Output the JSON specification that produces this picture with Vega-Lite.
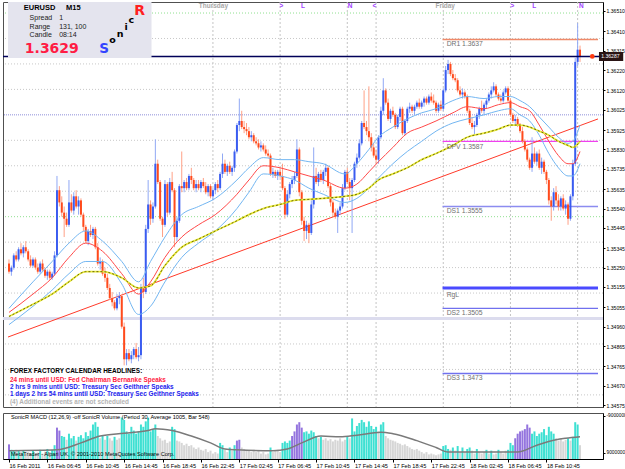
{
"$schema": "https://vega.github.io/schema/vega-lite/v6.json",
"background": "#ffffff",
"padding": {"left": 1, "top": 1, "right": 0, "bottom": 0},
"spacing": 3,
"config": {
 "view": {"stroke": "#505050", "strokeWidth": 1},
 "font": "Liberation Sans",
 "axis": {"labelFont": "Liberation Sans", "labelFontSize": 5.6, "labelColor": "#000000", "domainColor": "#000000", "tickColor": "#000000", "tickSize": 3, "labelPadding": 1, "grid": false, "labelOverlap": false, "labelFlush": false}
},
"resolve": {"scale": {"color": "independent", "stroke": "independent"}},
"datasets": {
"bars": [
{"i":0,"o":1.3527,"h":1.3529,"l":1.3522,"c":1.3523,"v":700,"k":"p"},
{"i":1,"o":1.3523,"h":1.3526,"l":1.3521,"c":1.3525,"v":440,"k":"c"},
{"i":2,"o":1.3525,"h":1.3532,"l":1.3524,"c":1.3531,"v":400,"k":"c"},
{"i":3,"o":1.3531,"h":1.3533,"l":1.3528,"c":1.3529,"v":440,"k":"g"},
{"i":4,"o":1.3529,"h":1.3535,"l":1.3528,"c":1.3534,"v":420,"k":"c"},
{"i":5,"o":1.3534,"h":1.3537,"l":1.3531,"c":1.3532,"v":330,"k":"g"},
{"i":6,"o":1.3532,"h":1.3536,"l":1.3530,"c":1.3535,"v":400,"k":"c"},
{"i":7,"o":1.3535,"h":1.3538,"l":1.3532,"c":1.3533,"v":260,"k":"g"},
{"i":8,"o":1.3533,"h":1.3534,"l":1.3528,"c":1.3529,"v":330,"k":"g"},
{"i":9,"o":1.3529,"h":1.3531,"l":1.3525,"c":1.3526,"v":260,"k":"g"},
{"i":10,"o":1.3526,"h":1.3530,"l":1.3525,"c":1.3529,"v":400,"k":"c"},
{"i":11,"o":1.3529,"h":1.3530,"l":1.3524,"c":1.3525,"v":220,"k":"g"},
{"i":12,"o":1.3525,"h":1.3527,"l":1.3522,"c":1.3523,"v":310,"k":"g"},
{"i":13,"o":1.3523,"h":1.3528,"l":1.3522,"c":1.3527,"v":440,"k":"c"},
{"i":14,"o":1.3527,"h":1.3529,"l":1.3523,"c":1.3524,"v":260,"k":"g"},
{"i":15,"o":1.3524,"h":1.3525,"l":1.3520,"c":1.3521,"v":350,"k":"g"},
{"i":16,"o":1.3521,"h":1.3524,"l":1.3519,"c":1.3523,"v":480,"k":"c"},
{"i":17,"o":1.3523,"h":1.3524,"l":1.3519,"c":1.3520,"v":330,"k":"g"},
{"i":18,"o":1.3520,"h":1.3523,"l":1.3519,"c":1.3522,"v":440,"k":"c"},
{"i":19,"o":1.3522,"h":1.3533,"l":1.3521,"c":1.3531,"v":660,"k":"c"},
{"i":20,"o":1.3531,"h":1.3570,"l":1.3530,"c":1.3563,"v":1500,"k":"p"},
{"i":21,"o":1.3563,"h":1.3565,"l":1.3555,"c":1.3557,"v":1360,"k":"p"},
{"i":22,"o":1.3557,"h":1.3560,"l":1.3550,"c":1.3552,"v":1100,"k":"c"},
{"i":23,"o":1.3552,"h":1.3555,"l":1.3540,"c":1.3549,"v":1060,"k":"c"},
{"i":24,"o":1.3549,"h":1.3552,"l":1.3545,"c":1.3546,"v":920,"k":"g"},
{"i":25,"o":1.3546,"h":1.3568,"l":1.3545,"c":1.3557,"v":1210,"k":"c"},
{"i":26,"o":1.3557,"h":1.3561,"l":1.3552,"c":1.3553,"v":990,"k":"c"},
{"i":27,"o":1.3553,"h":1.3562,"l":1.3551,"c":1.3560,"v":1100,"k":"c"},
{"i":28,"o":1.3560,"h":1.3563,"l":1.3554,"c":1.3555,"v":880,"k":"g"},
{"i":29,"o":1.3555,"h":1.3560,"l":1.3551,"c":1.3558,"v":1060,"k":"c"},
{"i":30,"o":1.3558,"h":1.3559,"l":1.3550,"c":1.3551,"v":1140,"k":"c"},
{"i":31,"o":1.3551,"h":1.3552,"l":1.3543,"c":1.3545,"v":990,"k":"c"},
{"i":32,"o":1.3545,"h":1.3546,"l":1.3537,"c":1.3538,"v":1280,"k":"c"},
{"i":33,"o":1.3538,"h":1.3544,"l":1.3536,"c":1.3543,"v":1100,"k":"c"},
{"i":34,"o":1.3543,"h":1.3546,"l":1.3540,"c":1.3541,"v":1360,"k":"c"},
{"i":35,"o":1.3541,"h":1.3545,"l":1.3539,"c":1.3544,"v":1650,"k":"c"},
{"i":36,"o":1.3544,"h":1.3545,"l":1.3534,"c":1.3535,"v":1760,"k":"c"},
{"i":37,"o":1.3535,"h":1.3537,"l":1.3526,"c":1.3527,"v":1540,"k":"c"},
{"i":38,"o":1.3527,"h":1.3530,"l":1.3524,"c":1.3528,"v":990,"k":"g"},
{"i":39,"o":1.3528,"h":1.3529,"l":1.3521,"c":1.3522,"v":1100,"k":"c"},
{"i":40,"o":1.3522,"h":1.3525,"l":1.3518,"c":1.3520,"v":920,"k":"g"},
{"i":41,"o":1.3520,"h":1.3522,"l":1.3514,"c":1.3515,"v":1100,"k":"c"},
{"i":42,"o":1.3515,"h":1.3517,"l":1.3509,"c":1.3510,"v":990,"k":"g"},
{"i":43,"o":1.3510,"h":1.3513,"l":1.3506,"c":1.3508,"v":880,"k":"g"},
{"i":44,"o":1.3508,"h":1.3509,"l":1.3504,"c":1.3505,"v":1060,"k":"c"},
{"i":45,"o":1.3505,"h":1.3512,"l":1.3504,"c":1.3510,"v":920,"k":"g"},
{"i":46,"o":1.3510,"h":1.3513,"l":1.3507,"c":1.3511,"v":990,"k":"g"},
{"i":47,"o":1.3511,"h":1.3512,"l":1.3495,"c":1.3496,"v":1980,"k":"c"},
{"i":48,"o":1.3496,"h":1.3498,"l":1.3477,"c":1.3480,"v":1870,"k":"c"},
{"i":49,"o":1.3480,"h":1.3485,"l":1.3477,"c":1.3483,"v":1320,"k":"c"},
{"i":50,"o":1.3483,"h":1.3485,"l":1.3479,"c":1.3480,"v":1210,"k":"c"},
{"i":51,"o":1.3480,"h":1.3484,"l":1.3478,"c":1.3482,"v":1540,"k":"c"},
{"i":52,"o":1.3482,"h":1.3486,"l":1.3480,"c":1.3485,"v":1360,"k":"c"},
{"i":53,"o":1.3485,"h":1.3488,"l":1.3480,"c":1.3481,"v":1210,"k":"c"},
{"i":54,"o":1.3481,"h":1.3486,"l":1.3479,"c":1.3482,"v":1320,"k":"c"},
{"i":55,"o":1.3482,"h":1.3517,"l":1.3480,"c":1.3515,"v":1650,"k":"c"},
{"i":56,"o":1.3515,"h":1.3520,"l":1.3510,"c":1.3513,"v":1540,"k":"c"},
{"i":57,"o":1.3513,"h":1.3546,"l":1.3512,"c":1.3544,"v":1800,"k":"c"},
{"i":58,"o":1.3544,"h":1.3568,"l":1.3542,"c":1.3556,"v":1980,"k":"c"},
{"i":59,"o":1.3556,"h":1.3558,"l":1.3546,"c":1.3549,"v":1320,"k":"c"},
{"i":60,"o":1.3549,"h":1.3557,"l":1.3547,"c":1.3555,"v":1430,"k":"c"},
{"i":61,"o":1.3555,"h":1.3588,"l":1.3554,"c":1.3576,"v":1650,"k":"c"},
{"i":62,"o":1.3576,"h":1.3578,"l":1.3566,"c":1.3567,"v":1100,"k":"g"},
{"i":63,"o":1.3567,"h":1.3568,"l":1.3548,"c":1.3549,"v":990,"k":"g"},
{"i":64,"o":1.3549,"h":1.3550,"l":1.3540,"c":1.3546,"v":880,"k":"g"},
{"i":65,"o":1.3546,"h":1.3568,"l":1.3545,"c":1.3566,"v":920,"k":"g"},
{"i":66,"o":1.3566,"h":1.3567,"l":1.3550,"c":1.3552,"v":770,"k":"g"},
{"i":67,"o":1.3552,"h":1.3569,"l":1.3551,"c":1.3567,"v":840,"k":"g"},
{"i":68,"o":1.3567,"h":1.3572,"l":1.3562,"c":1.3563,"v":1540,"k":"c"},
{"i":69,"o":1.3563,"h":1.3564,"l":1.3535,"c":1.3540,"v":1430,"k":"c"},
{"i":70,"o":1.3540,"h":1.3550,"l":1.3538,"c":1.3548,"v":880,"k":"g"},
{"i":71,"o":1.3548,"h":1.3566,"l":1.3547,"c":1.3565,"v":840,"k":"g"},
{"i":72,"o":1.3565,"h":1.3582,"l":1.3562,"c":1.3564,"v":770,"k":"g"},
{"i":73,"o":1.3564,"h":1.3568,"l":1.3562,"c":1.3567,"v":660,"k":"g"},
{"i":74,"o":1.3567,"h":1.3569,"l":1.3563,"c":1.3564,"v":730,"k":"g"},
{"i":75,"o":1.3564,"h":1.3571,"l":1.3563,"c":1.3570,"v":620,"k":"g"},
{"i":76,"o":1.3570,"h":1.3574,"l":1.3566,"c":1.3568,"v":660,"k":"g"},
{"i":77,"o":1.3568,"h":1.3569,"l":1.3563,"c":1.3564,"v":550,"k":"g"},
{"i":78,"o":1.3564,"h":1.3568,"l":1.3562,"c":1.3566,"v":480,"k":"g"},
{"i":79,"o":1.3566,"h":1.3568,"l":1.3563,"c":1.3564,"v":550,"k":"g"},
{"i":80,"o":1.3564,"h":1.3568,"l":1.3562,"c":1.3567,"v":440,"k":"g"},
{"i":81,"o":1.3567,"h":1.3569,"l":1.3564,"c":1.3565,"v":400,"k":"g"},
{"i":82,"o":1.3565,"h":1.3567,"l":1.3561,"c":1.3562,"v":480,"k":"g"},
{"i":83,"o":1.3562,"h":1.3566,"l":1.3560,"c":1.3565,"v":330,"k":"g"},
{"i":84,"o":1.3565,"h":1.3566,"l":1.3559,"c":1.3560,"v":400,"k":"g"},
{"i":85,"o":1.3560,"h":1.3564,"l":1.3558,"c":1.3563,"v":260,"k":"g"},
{"i":86,"o":1.3563,"h":1.3567,"l":1.3561,"c":1.3566,"v":330,"k":"g"},
{"i":87,"o":1.3566,"h":1.3568,"l":1.3562,"c":1.3564,"v":260,"k":"g"},
{"i":88,"o":1.3564,"h":1.3572,"l":1.3563,"c":1.3571,"v":770,"k":"c"},
{"i":89,"o":1.3571,"h":1.3581,"l":1.3569,"c":1.3576,"v":660,"k":"c"},
{"i":90,"o":1.3576,"h":1.3578,"l":1.3571,"c":1.3572,"v":440,"k":"g"},
{"i":91,"o":1.3572,"h":1.3576,"l":1.3570,"c":1.3575,"v":330,"k":"g"},
{"i":92,"o":1.3575,"h":1.3577,"l":1.3571,"c":1.3572,"v":550,"k":"c"},
{"i":93,"o":1.3572,"h":1.3575,"l":1.3570,"c":1.3574,"v":400,"k":"g"},
{"i":94,"o":1.3574,"h":1.3583,"l":1.3572,"c":1.3582,"v":660,"k":"c"},
{"i":95,"o":1.3582,"h":1.3596,"l":1.3581,"c":1.3595,"v":880,"k":"p"},
{"i":96,"o":1.3595,"h":1.3608,"l":1.3592,"c":1.3597,"v":920,"k":"p"},
{"i":97,"o":1.3597,"h":1.3602,"l":1.3593,"c":1.3594,"v":550,"k":"g"},
{"i":98,"o":1.3594,"h":1.3597,"l":1.3591,"c":1.3593,"v":480,"k":"g"},
{"i":99,"o":1.3593,"h":1.3596,"l":1.3590,"c":1.3592,"v":440,"k":"g"},
{"i":100,"o":1.3592,"h":1.3594,"l":1.3588,"c":1.3589,"v":400,"k":"g"},
{"i":101,"o":1.3589,"h":1.3592,"l":1.3587,"c":1.3590,"v":330,"k":"g"},
{"i":102,"o":1.3590,"h":1.3591,"l":1.3586,"c":1.3587,"v":440,"k":"g"},
{"i":103,"o":1.3587,"h":1.3589,"l":1.3585,"c":1.3586,"v":330,"k":"g"},
{"i":104,"o":1.3586,"h":1.3588,"l":1.3583,"c":1.3584,"v":400,"k":"g"},
{"i":105,"o":1.3584,"h":1.3587,"l":1.3582,"c":1.3585,"v":260,"k":"g"},
{"i":106,"o":1.3585,"h":1.3586,"l":1.3582,"c":1.3583,"v":330,"k":"g"},
{"i":107,"o":1.3583,"h":1.3585,"l":1.3580,"c":1.3581,"v":220,"k":"g"},
{"i":108,"o":1.3581,"h":1.3583,"l":1.3579,"c":1.3580,"v":260,"k":"g"},
{"i":109,"o":1.3580,"h":1.3581,"l":1.3570,"c":1.3571,"v":550,"k":"c"},
{"i":110,"o":1.3571,"h":1.3574,"l":1.3569,"c":1.3572,"v":330,"k":"g"},
{"i":111,"o":1.3572,"h":1.3573,"l":1.3569,"c":1.3570,"v":400,"k":"g"},
{"i":112,"o":1.3570,"h":1.3573,"l":1.3568,"c":1.3572,"v":440,"k":"g"},
{"i":113,"o":1.3572,"h":1.3574,"l":1.3569,"c":1.3570,"v":330,"k":"g"},
{"i":114,"o":1.3570,"h":1.3576,"l":1.3563,"c":1.3564,"v":770,"k":"c"},
{"i":115,"o":1.3564,"h":1.3565,"l":1.3549,"c":1.3551,"v":840,"k":"c"},
{"i":116,"o":1.3551,"h":1.3563,"l":1.3550,"c":1.3561,"v":770,"k":"c"},
{"i":117,"o":1.3561,"h":1.3567,"l":1.3559,"c":1.3566,"v":880,"k":"c"},
{"i":118,"o":1.3566,"h":1.3570,"l":1.3564,"c":1.3568,"v":1100,"k":"p"},
{"i":119,"o":1.3568,"h":1.3572,"l":1.3566,"c":1.3570,"v":1320,"k":"p"},
{"i":120,"o":1.3570,"h":1.3588,"l":1.3569,"c":1.3583,"v":1650,"k":"p"},
{"i":121,"o":1.3583,"h":1.3584,"l":1.3560,"c":1.3562,"v":1760,"k":"p"},
{"i":122,"o":1.3562,"h":1.3563,"l":1.3546,"c":1.3548,"v":1500,"k":"p"},
{"i":123,"o":1.3548,"h":1.3550,"l":1.3538,"c":1.3543,"v":1280,"k":"c"},
{"i":124,"o":1.3543,"h":1.3548,"l":1.3539,"c":1.3546,"v":1320,"k":"c"},
{"i":125,"o":1.3546,"h":1.3547,"l":1.3537,"c":1.3542,"v":1210,"k":"c"},
{"i":126,"o":1.3542,"h":1.3558,"l":1.3541,"c":1.3556,"v":1360,"k":"c"},
{"i":127,"o":1.3556,"h":1.3584,"l":1.3554,"c":1.3570,"v":1280,"k":"c"},
{"i":128,"o":1.3570,"h":1.3574,"l":1.3566,"c":1.3567,"v":1100,"k":"c"},
{"i":129,"o":1.3567,"h":1.3572,"l":1.3565,"c":1.3571,"v":990,"k":"g"},
{"i":130,"o":1.3571,"h":1.3573,"l":1.3567,"c":1.3568,"v":1060,"k":"c"},
{"i":131,"o":1.3568,"h":1.3573,"l":1.3566,"c":1.3572,"v":920,"k":"g"},
{"i":132,"o":1.3572,"h":1.3576,"l":1.3570,"c":1.3574,"v":990,"k":"g"},
{"i":133,"o":1.3574,"h":1.3575,"l":1.3564,"c":1.3565,"v":880,"k":"g"},
{"i":134,"o":1.3565,"h":1.3566,"l":1.3555,"c":1.3557,"v":950,"k":"g"},
{"i":135,"o":1.3557,"h":1.3558,"l":1.3550,"c":1.3552,"v":840,"k":"g"},
{"i":136,"o":1.3552,"h":1.3554,"l":1.3549,"c":1.3550,"v":920,"k":"g"},
{"i":137,"o":1.3550,"h":1.3554,"l":1.3542,"c":1.3553,"v":880,"k":"g"},
{"i":138,"o":1.3553,"h":1.3557,"l":1.3551,"c":1.3555,"v":990,"k":"g"},
{"i":139,"o":1.3555,"h":1.3566,"l":1.3554,"c":1.3564,"v":840,"k":"g"},
{"i":140,"o":1.3564,"h":1.3573,"l":1.3563,"c":1.3572,"v":920,"k":"g"},
{"i":141,"o":1.3572,"h":1.3574,"l":1.3566,"c":1.3567,"v":1100,"k":"c"},
{"i":142,"o":1.3567,"h":1.3569,"l":1.3558,"c":1.3564,"v":990,"k":"g"},
{"i":143,"o":1.3564,"h":1.3569,"l":1.3542,"c":1.3568,"v":1940,"k":"c"},
{"i":144,"o":1.3568,"h":1.3577,"l":1.3567,"c":1.3576,"v":1320,"k":"c"},
{"i":145,"o":1.3576,"h":1.3581,"l":1.3574,"c":1.3579,"v":1580,"k":"c"},
{"i":146,"o":1.3579,"h":1.3588,"l":1.3578,"c":1.3586,"v":1720,"k":"c"},
{"i":147,"o":1.3586,"h":1.3597,"l":1.3585,"c":1.3596,"v":1870,"k":"c"},
{"i":148,"o":1.3596,"h":1.3612,"l":1.3593,"c":1.3594,"v":1760,"k":"c"},
{"i":149,"o":1.3594,"h":1.3597,"l":1.3590,"c":1.3592,"v":1540,"k":"c"},
{"i":150,"o":1.3592,"h":1.3614,"l":1.3587,"c":1.3589,"v":1800,"k":"c"},
{"i":151,"o":1.3589,"h":1.3591,"l":1.3582,"c":1.3584,"v":1580,"k":"c"},
{"i":152,"o":1.3584,"h":1.3586,"l":1.3579,"c":1.3580,"v":1430,"k":"c"},
{"i":153,"o":1.3580,"h":1.3583,"l":1.3576,"c":1.3578,"v":1540,"k":"c"},
{"i":154,"o":1.3578,"h":1.3590,"l":1.3576,"c":1.3589,"v":1320,"k":"g"},
{"i":155,"o":1.3589,"h":1.3604,"l":1.3588,"c":1.3602,"v":1650,"k":"c"},
{"i":156,"o":1.3602,"h":1.3618,"l":1.3600,"c":1.3612,"v":1760,"k":"c"},
{"i":157,"o":1.3612,"h":1.3613,"l":1.3605,"c":1.3606,"v":1100,"k":"g"},
{"i":158,"o":1.3606,"h":1.3608,"l":1.3597,"c":1.3598,"v":990,"k":"g"},
{"i":159,"o":1.3598,"h":1.3603,"l":1.3596,"c":1.3602,"v":920,"k":"g"},
{"i":160,"o":1.3602,"h":1.3604,"l":1.3599,"c":1.3600,"v":880,"k":"g"},
{"i":161,"o":1.3600,"h":1.3601,"l":1.3593,"c":1.3594,"v":840,"k":"g"},
{"i":162,"o":1.3594,"h":1.3600,"l":1.3593,"c":1.3599,"v":770,"k":"g"},
{"i":163,"o":1.3599,"h":1.3604,"l":1.3597,"c":1.3603,"v":730,"k":"g"},
{"i":164,"o":1.3603,"h":1.3604,"l":1.3590,"c":1.3591,"v":660,"k":"g"},
{"i":165,"o":1.3591,"h":1.3598,"l":1.3590,"c":1.3597,"v":700,"k":"g"},
{"i":166,"o":1.3597,"h":1.3604,"l":1.3596,"c":1.3603,"v":620,"k":"g"},
{"i":167,"o":1.3603,"h":1.3606,"l":1.3601,"c":1.3604,"v":550,"k":"g"},
{"i":168,"o":1.3604,"h":1.3605,"l":1.3601,"c":1.3602,"v":480,"k":"g"},
{"i":169,"o":1.3602,"h":1.3605,"l":1.3600,"c":1.3604,"v":440,"k":"g"},
{"i":170,"o":1.3604,"h":1.3607,"l":1.3603,"c":1.3606,"v":480,"k":"g"},
{"i":171,"o":1.3606,"h":1.3608,"l":1.3603,"c":1.3604,"v":400,"k":"g"},
{"i":172,"o":1.3604,"h":1.3607,"l":1.3603,"c":1.3606,"v":330,"k":"g"},
{"i":173,"o":1.3606,"h":1.3609,"l":1.3604,"c":1.3608,"v":260,"k":"g"},
{"i":174,"o":1.3608,"h":1.3609,"l":1.3605,"c":1.3606,"v":330,"k":"g"},
{"i":175,"o":1.3606,"h":1.3610,"l":1.3605,"c":1.3609,"v":220,"k":"g"},
{"i":176,"o":1.3609,"h":1.3611,"l":1.3606,"c":1.3607,"v":260,"k":"g"},
{"i":177,"o":1.3607,"h":1.3610,"l":1.3605,"c":1.3606,"v":220,"k":"g"},
{"i":178,"o":1.3606,"h":1.3607,"l":1.3601,"c":1.3602,"v":180,"k":"g"},
{"i":179,"o":1.3602,"h":1.3606,"l":1.3601,"c":1.3605,"v":220,"k":"g"},
{"i":180,"o":1.3605,"h":1.3607,"l":1.3602,"c":1.3603,"v":260,"k":"g"},
{"i":181,"o":1.3603,"h":1.3613,"l":1.3602,"c":1.3612,"v":620,"k":"c"},
{"i":182,"o":1.3612,"h":1.3624,"l":1.3611,"c":1.3622,"v":660,"k":"c"},
{"i":183,"o":1.3622,"h":1.3627,"l":1.3620,"c":1.3625,"v":480,"k":"c"},
{"i":184,"o":1.3625,"h":1.3626,"l":1.3619,"c":1.3620,"v":440,"k":"g"},
{"i":185,"o":1.3620,"h":1.3622,"l":1.3617,"c":1.3618,"v":550,"k":"c"},
{"i":186,"o":1.3618,"h":1.3620,"l":1.3616,"c":1.3617,"v":400,"k":"g"},
{"i":187,"o":1.3617,"h":1.3618,"l":1.3611,"c":1.3612,"v":620,"k":"c"},
{"i":188,"o":1.3612,"h":1.3614,"l":1.3609,"c":1.3610,"v":330,"k":"g"},
{"i":189,"o":1.3610,"h":1.3613,"l":1.3608,"c":1.3611,"v":550,"k":"c"},
{"i":190,"o":1.3611,"h":1.3612,"l":1.3608,"c":1.3609,"v":330,"k":"g"},
{"i":191,"o":1.3609,"h":1.3610,"l":1.3601,"c":1.3602,"v":480,"k":"c"},
{"i":192,"o":1.3602,"h":1.3603,"l":1.3595,"c":1.3596,"v":550,"k":"c"},
{"i":193,"o":1.3596,"h":1.3599,"l":1.3593,"c":1.3594,"v":400,"k":"g"},
{"i":194,"o":1.3594,"h":1.3597,"l":1.3590,"c":1.3595,"v":260,"k":"g"},
{"i":195,"o":1.3595,"h":1.3601,"l":1.3594,"c":1.3600,"v":480,"k":"c"},
{"i":196,"o":1.3600,"h":1.3604,"l":1.3598,"c":1.3603,"v":330,"k":"g"},
{"i":197,"o":1.3603,"h":1.3607,"l":1.3601,"c":1.3602,"v":260,"k":"g"},
{"i":198,"o":1.3602,"h":1.3606,"l":1.3600,"c":1.3605,"v":330,"k":"g"},
{"i":199,"o":1.3605,"h":1.3608,"l":1.3603,"c":1.3607,"v":440,"k":"c"},
{"i":200,"o":1.3607,"h":1.3611,"l":1.3606,"c":1.3610,"v":260,"k":"g"},
{"i":201,"o":1.3610,"h":1.3614,"l":1.3608,"c":1.3612,"v":400,"k":"c"},
{"i":202,"o":1.3612,"h":1.3616,"l":1.3611,"c":1.3614,"v":220,"k":"g"},
{"i":203,"o":1.3614,"h":1.3615,"l":1.3609,"c":1.3610,"v":260,"k":"g"},
{"i":204,"o":1.3610,"h":1.3611,"l":1.3607,"c":1.3608,"v":440,"k":"c"},
{"i":205,"o":1.3608,"h":1.3610,"l":1.3606,"c":1.3607,"v":330,"k":"g"},
{"i":206,"o":1.3607,"h":1.3612,"l":1.3606,"c":1.3611,"v":260,"k":"g"},
{"i":207,"o":1.3611,"h":1.3614,"l":1.3610,"c":1.3613,"v":400,"k":"g"},
{"i":208,"o":1.3613,"h":1.3614,"l":1.3606,"c":1.3607,"v":440,"k":"c"},
{"i":209,"o":1.3607,"h":1.3608,"l":1.3599,"c":1.3600,"v":770,"k":"c"},
{"i":210,"o":1.3600,"h":1.3601,"l":1.3596,"c":1.3597,"v":660,"k":"c"},
{"i":211,"o":1.3597,"h":1.3600,"l":1.3595,"c":1.3598,"v":990,"k":"p"},
{"i":212,"o":1.3598,"h":1.3599,"l":1.3594,"c":1.3595,"v":1210,"k":"p"},
{"i":213,"o":1.3595,"h":1.3596,"l":1.3591,"c":1.3592,"v":1320,"k":"p"},
{"i":214,"o":1.3592,"h":1.3594,"l":1.3586,"c":1.3587,"v":1360,"k":"p"},
{"i":215,"o":1.3587,"h":1.3588,"l":1.3582,"c":1.3583,"v":1430,"k":"p"},
{"i":216,"o":1.3583,"h":1.3584,"l":1.3577,"c":1.3578,"v":1650,"k":"p"},
{"i":217,"o":1.3578,"h":1.3579,"l":1.3573,"c":1.3574,"v":1500,"k":"p"},
{"i":218,"o":1.3574,"h":1.3589,"l":1.3572,"c":1.3581,"v":1210,"k":"c"},
{"i":219,"o":1.3581,"h":1.3584,"l":1.3576,"c":1.3577,"v":1320,"k":"c"},
{"i":220,"o":1.3577,"h":1.3582,"l":1.3575,"c":1.3581,"v":1100,"k":"c"},
{"i":221,"o":1.3581,"h":1.3583,"l":1.3573,"c":1.3574,"v":1210,"k":"c"},
{"i":222,"o":1.3574,"h":1.3579,"l":1.3571,"c":1.3577,"v":1280,"k":"c"},
{"i":223,"o":1.3577,"h":1.3578,"l":1.3571,"c":1.3572,"v":1430,"k":"c"},
{"i":224,"o":1.3572,"h":1.3573,"l":1.3566,"c":1.3568,"v":1140,"k":"c"},
{"i":225,"o":1.3568,"h":1.3569,"l":1.3556,"c":1.3558,"v":1540,"k":"c"},
{"i":226,"o":1.3558,"h":1.3560,"l":1.3548,"c":1.3555,"v":1320,"k":"c"},
{"i":227,"o":1.3555,"h":1.3564,"l":1.3553,"c":1.3562,"v":1210,"k":"c"},
{"i":228,"o":1.3562,"h":1.3565,"l":1.3556,"c":1.3558,"v":990,"k":"g"},
{"i":229,"o":1.3558,"h":1.3561,"l":1.3553,"c":1.3555,"v":880,"k":"g"},
{"i":230,"o":1.3555,"h":1.3560,"l":1.3553,"c":1.3559,"v":990,"k":"g"},
{"i":231,"o":1.3559,"h":1.3561,"l":1.3553,"c":1.3554,"v":840,"k":"g"},
{"i":232,"o":1.3554,"h":1.3558,"l":1.3551,"c":1.3556,"v":920,"k":"g"},
{"i":233,"o":1.3556,"h":1.3557,"l":1.3546,"c":1.3549,"v":990,"k":"c"},
{"i":234,"o":1.3549,"h":1.3561,"l":1.3548,"c":1.3560,"v":880,"k":"g"},
{"i":235,"o":1.3560,"h":1.3578,"l":1.3558,"c":1.3576,"v":1060,"k":"c"},
{"i":236,"o":1.3576,"h":1.3628,"l":1.3575,"c":1.3626,"v":1760,"k":"c"},
{"i":237,"o":1.3626,"h":1.3645,"l":1.3624,"c":1.3632,"v":1650,"k":"c"},
{"i":238,"o":1.3632,"h":1.3634,"l":1.3626,"c":1.36287,"v":660,"k":"g"}
],
"ma": [
{"i":0,"u":1.3505,"m":1.3503,"d":1.3497,"e":1.3501},
{"i":10,"u":1.3518,"m":1.3512,"d":1.3506,"e":1.3507},
{"i":18,"u":1.3528,"m":1.3520,"d":1.3514,"e":1.3512},
{"i":25,"u":1.3537,"m":1.3530,"d":1.3522,"e":1.3518},
{"i":32,"u":1.3543,"m":1.3537,"d":1.3528,"e":1.3523},
{"i":39,"u":1.3538,"m":1.3533,"d":1.3528,"e":1.3523},
{"i":47,"u":1.3528,"m":1.3522,"d":1.3517,"e":1.3520},
{"i":54,"u":1.3518,"m":1.3512,"d":1.3502,"e":1.3515},
{"i":59,"u":1.3528,"m":1.3518,"d":1.3506,"e":1.3516},
{"i":65,"u":1.3540,"m":1.3530,"d":1.3518,"e":1.3526},
{"i":72,"u":1.3551,"m":1.3540,"d":1.3530,"e":1.3535},
{"i":79,"u":1.3555,"m":1.3546,"d":1.3537,"e":1.3539},
{"i":86,"u":1.3559,"m":1.3551,"d":1.3543,"e":1.3543},
{"i":95,"u":1.3568,"m":1.3561,"d":1.3554,"e":1.3548},
{"i":100,"u":1.3574,"m":1.3568,"d":1.3562,"e":1.3551},
{"i":106,"u":1.3579,"m":1.3575,"d":1.3571,"e":1.3554},
{"i":113,"u":1.3578,"m":1.3574,"d":1.3570,"e":1.3556},
{"i":119,"u":1.3578,"m":1.3572,"d":1.3568,"e":1.3558},
{"i":125,"u":1.3577,"m":1.3570,"d":1.3564,"e":1.35585},
{"i":131,"u":1.3576,"m":1.3568,"d":1.3561,"e":1.3559},
{"i":140,"u":1.3571,"m":1.3564,"d":1.3557,"e":1.3560},
{"i":145,"u":1.3576,"m":1.3566,"d":1.3559,"e":1.3561},
{"i":150,"u":1.3583,"m":1.3572,"d":1.3564,"e":1.3564},
{"i":154,"u":1.3589,"m":1.3577,"d":1.3569,"e":1.3568},
{"i":160,"u":1.3594,"m":1.3584,"d":1.3576,"e":1.3571},
{"i":166,"u":1.3598,"m":1.3591,"d":1.3582,"e":1.3574},
{"i":172,"u":1.3601,"m":1.3594,"d":1.3587,"e":1.3578},
{"i":178,"u":1.3603,"m":1.3597,"d":1.3592,"e":1.3581},
{"i":185,"u":1.3607,"m":1.3601,"d":1.3596,"e":1.3585},
{"i":191,"u":1.3609,"m":1.3604,"d":1.3598,"e":1.3589},
{"i":198,"u":1.3608,"m":1.3603,"d":1.3600,"e":1.3591},
{"i":204,"u":1.3609,"m":1.3605,"d":1.3602,"e":1.3593},
{"i":209,"u":1.3609,"m":1.3606,"d":1.3603,"e":1.3595},
{"i":213,"u":1.3607,"m":1.3604,"d":1.3600,"e":1.3595},
{"i":217,"u":1.3604,"m":1.3602,"d":1.3597,"e":1.3594},
{"i":221,"u":1.3599,"m":1.3595,"d":1.3590,"e":1.3592},
{"i":225,"u":1.3594,"m":1.3587,"d":1.3581,"e":1.3590},
{"i":229,"u":1.3589,"m":1.3580,"d":1.3574,"e":1.3587},
{"i":233,"u":1.3586,"m":1.3576,"d":1.3570,"e":1.3585},
{"i":235,"u":1.3587,"m":1.3576,"d":1.3570,"e":1.3584},
{"i":238,"u":1.3595,"m":1.3582,"d":1.3576,"e":1.3587}
],
"va": [
{"i":0,"a":400},{"i":20,"a":440},{"i":30,"a":770},{"i":38,"a":1100},{"i":48,"a":1230},{"i":58,"a":1360},{"i":61,"a":1450},{"i":68,"a":1360},{"i":76,"a":1100},{"i":84,"a":770},{"i":90,"a":480},{"i":95,"a":440},{"i":110,"a":400},{"i":116,"a":480},{"i":122,"a":770},{"i":130,"a":1100},{"i":138,"a":1060},{"i":145,"a":1140},{"i":155,"a":1280},{"i":160,"a":1210},{"i":170,"a":880},{"i":178,"a":550},{"i":183,"a":330},{"i":200,"a":330},{"i":212,"a":330},{"i":220,"a":660},{"i":228,"a":920},{"i":232,"a":990},{"i":238,"a":1060}
]
},
"vconcat": [
{
"width": 600, "height": 405,
"resolve": {"axis": {"x": "independent", "y": "independent"}},
"layer": [
{"data": {"values": [{"p":1.34625},{"p":1.3475},{"p":1.34875},{"p":1.35125},{"p":1.3525},{"p":1.35375},{"p":1.35625},{"p":1.3575},{"p":1.35875},{"p":1.36125},{"p":1.3625},{"p":1.36375}]},
 "mark": {"type": "rule", "stroke": "#c8c8c8", "strokeDash": [1, 2]},
 "encoding": {"y": {"field": "p", "type": "quantitative", "scale": {"domain": [1.345655, 1.365541], "nice": false, "zero": false}, "axis": {"orient": "right", "title": null, "labelFontSize": 5.1, "tickSize": 2, "labelPadding": 1, "values": [1.3651,1.3641,1.36315,1.3622,1.3612,1.36025,1.35925,1.3583,1.35735,1.35635,1.3554,1.35445,1.35345,1.3525,1.35155,1.35055,1.3496,1.34865,1.34765,1.3467,1.34575], "format": ".5f"}}}},
{"data": {"values": [{"i":85},{"i":113},{"i":141},{"i":153},{"i":181},{"i":209},{"i":237}]},
 "mark": {"type": "rule", "stroke": "#c4c4c4", "strokeDash": [2, 2]},
 "encoding": {"x": {"field": "i", "type": "quantitative", "scale": {"domain": [-0.41, 245.49], "nice": false, "zero": false}, "axis": null}}},
{"data": {"values": [{"p":1.35}]},
 "mark": {"type": "rule", "stroke": "#dcdcee", "strokeWidth": 3},
 "encoding": {"y": {"field": "p", "type": "quantitative", "axis": null}}},
{"data": {"values": [{"p":1.36}]},
 "mark": {"type": "rule", "stroke": "#b4b4e6", "strokeWidth": 1.5, "strokeDash": [1, 1]},
 "encoding": {"y": {"field": "p", "type": "quantitative", "axis": null}}},
{"data": {"values": [{"p":1.355},{"p":1.365}]},
 "mark": {"type": "rule", "stroke": "#90e090", "strokeDash": [1, 2]},
 "encoding": {"y": {"field": "p", "type": "quantitative", "axis": null}}},
{"data": {"values": [{"n":"DR1","p":1.3637},{"n":"DPV","p":1.3587},{"n":"DS1","p":1.3555},{"n":"DS2","p":1.3505},{"n":"DS3","p":1.3473}]},
 "mark": {"type": "rule", "strokeWidth": 1.3},
 "encoding": {
  "x": {"datum": 180.7, "type": "quantitative", "axis": null},
  "x2": {"datum": 245.49},
  "y": {"field": "p", "type": "quantitative", "axis": null},
  "stroke": {"field": "n", "type": "nominal", "scale": {"domain": ["DR1","DPV","DS1","DS2","DS3"], "range": ["#f08a6a","#f040f0","#8c8cf0","#7070ee","#7070ee"]}, "legend": null}}},
{"data": {"values": [{"p":1.3515}]},
 "mark": {"type": "rule", "stroke": "#4a4aff", "strokeWidth": 3},
 "encoding": {"x": {"datum": 180.7, "type": "quantitative", "axis": null}, "x2": {"datum": 245.49}, "y": {"field": "p", "type": "quantitative", "axis": null}}},
{"data": {"values": [{"i":-0.41,"p":1.34909},{"i":245.49,"p":1.3598}]},
 "mark": {"type": "line", "color": "#ff3a2a", "strokeWidth": 1},
 "encoding": {"x": {"field": "i", "type": "quantitative", "axis": null}, "y": {"field": "p", "type": "quantitative", "axis": null}}},
{"data": {"name": "bars"},
 "mark": {"type": "rule", "strokeWidth": 1},
 "encoding": {
  "x": {"field": "i", "type": "quantitative", "axis": null},
  "y": {"field": "l", "type": "quantitative", "axis": null},
  "y2": {"field": "h"},
  "color": {"condition": {"test": "datum.c >= datum.o", "value": "#90a8f4"}, "value": "#ffa086"}}},
{"data": {"name": "bars"},
 "mark": {"type": "bar", "size": 2},
 "encoding": {
  "x": {"field": "i", "type": "quantitative", "axis": null},
  "y": {"field": "o", "type": "quantitative", "axis": null},
  "y2": {"field": "c"},
  "color": {"condition": {"test": "datum.c >= datum.o", "value": "#3a5cf0"}, "value": "#ff4a1c"}}},
{"data": {"name": "ma"},
 "mark": {"type": "line", "color": "#72b6f2", "strokeWidth": 1, "interpolate": "monotone"},
 "encoding": {"x": {"field": "i", "type": "quantitative", "axis": null}, "y": {"field": "u", "type": "quantitative", "axis": null}}},
{"data": {"name": "ma"},
 "mark": {"type": "line", "color": "#72b6f2", "strokeWidth": 1, "interpolate": "monotone"},
 "encoding": {"x": {"field": "i", "type": "quantitative", "axis": null}, "y": {"field": "d", "type": "quantitative", "axis": null}}},
{"data": {"name": "ma"},
 "mark": {"type": "line", "color": "#ff4848", "strokeWidth": 1, "interpolate": "monotone"},
 "encoding": {"x": {"field": "i", "type": "quantitative", "axis": null}, "y": {"field": "m", "type": "quantitative", "axis": null}}},
{"data": {"name": "ma"},
 "mark": {"type": "line", "color": "#ecec3c", "strokeWidth": 1.8, "interpolate": "monotone"},
 "encoding": {"x": {"field": "i", "type": "quantitative", "axis": null}, "y": {"field": "e", "type": "quantitative", "axis": null}}},
{"data": {"name": "ma"},
 "mark": {"type": "line", "color": "#5a5a00", "strokeWidth": 0.9, "strokeDash": [2, 2], "interpolate": "monotone"},
 "encoding": {"x": {"field": "i", "type": "quantitative", "axis": null}, "y": {"field": "e", "type": "quantitative", "axis": null}}},
{"data": {"values": [{"p":1.36287}]},
 "mark": {"type": "rule", "stroke": "#000058", "strokeWidth": 1.5},
 "encoding": {"y": {"field": "p", "type": "quantitative", "axis": null}}},
{"data": {"values": [{"i":243.1,"p":1.36287}]},
 "mark": {"type": "point", "filled": true, "color": "#ff3a10", "size": 22, "opacity": 1},
 "encoding": {"x": {"field": "i", "type": "quantitative", "axis": null}, "y": {"field": "p", "type": "quantitative", "axis": null}}},
{"data": {"values": [{"i1":-0.41,"i2":59.4,"p1":1.36279,"p2":1.365541}]},
 "mark": {"type": "rect", "fill": "#e4e4ee"},
 "encoding": {"x": {"field": "i1", "type": "quantitative", "axis": null}, "x2": {"field": "i2"}, "y": {"field": "p1", "type": "quantitative", "axis": null}, "y2": {"field": "p2"}}},
{"data": {"values": [{"i":6.15,"p":1.36525,"t":"EURUSD"},{"i":23.8,"p":1.36525,"t":"M15"}]},
 "mark": {"type": "text", "font": "Liberation Sans", "fontWeight": "bold", "fontSize": 7.5, "align": "left", "baseline": "middle", "color": "#000000"},
 "encoding": {"x": {"field": "i", "type": "quantitative", "axis": null}, "y": {"field": "p", "type": "quantitative", "axis": null}, "text": {"field": "t"}}},
{"data": {"values": [{"i":8.6,"p":1.36477,"t":"Spread"},{"i":8.6,"p":1.36431,"t":"Range"},{"i":8.6,"p":1.3639,"t":"Candle"},{"i":20.9,"p":1.36477,"t":"1"},{"i":20.9,"p":1.36431,"t":"131, 100"},{"i":20.9,"p":1.3639,"t":"08:14"}]},
 "mark": {"type": "text", "font": "Liberation Sans", "fontSize": 7, "align": "left", "baseline": "middle", "color": "#202020"},
 "encoding": {"x": {"field": "i", "type": "quantitative", "axis": null}, "y": {"field": "p", "type": "quantitative", "axis": null}, "text": {"field": "t"}}},
{"data": {"values": [{"i":6.6,"p":1.36323,"t":"1.3629"}]},
 "mark": {"type": "text", "font": "DejaVu Sans", "fontWeight": "bold", "fontSize": 14, "align": "left", "baseline": "middle", "color": "#ff1c44"},
 "encoding": {"x": {"field": "i", "type": "quantitative", "axis": null}, "y": {"field": "p", "type": "quantitative", "axis": null}, "text": {"field": "t"}}},
{"data": {"values": [{"i":39.6,"p":1.36321,"t":"S"}]},
 "mark": {"type": "text", "font": "DejaVu Sans", "fontWeight": "bold", "fontSize": 13.5, "align": "center", "baseline": "middle", "color": "#3344ff"},
 "encoding": {"x": {"field": "i", "type": "quantitative", "axis": null}, "y": {"field": "p", "type": "quantitative", "axis": null}, "text": {"field": "t"}}},
{"data": {"values": [{"i":43.2,"p":1.36368,"t":"o"},{"i":46.3,"p":1.36399,"t":"n"},{"i":48.8,"p":1.36433,"t":"i"},{"i":51.0,"p":1.36468,"t":"c"}]},
 "mark": {"type": "text", "font": "DejaVu Sans", "fontWeight": "bold", "fontSize": 9.5, "align": "center", "baseline": "middle", "color": "#000000"},
 "encoding": {"x": {"field": "i", "type": "quantitative", "axis": null}, "y": {"field": "p", "type": "quantitative", "axis": null}, "text": {"field": "t"}}},
{"data": {"values": [{"i":54.5,"p":1.3651,"t":"R"}]},
 "mark": {"type": "text", "font": "DejaVu Sans", "fontWeight": "bold", "fontSize": 14, "align": "center", "baseline": "middle", "color": "#ff2020"},
 "encoding": {"x": {"field": "i", "type": "quantitative", "axis": null}, "y": {"field": "p", "type": "quantitative", "axis": null}, "text": {"field": "t"}}},
{"data": {"values": [{"i":0.4,"p":1.34742,"t":"FOREX FACTORY CALENDAR  HEADLINES:"}]},
 "mark": {"type": "text", "font": "Liberation Sans", "fontWeight": "bold", "fontSize": 6.4, "align": "left", "baseline": "middle", "color": "#000000"},
 "encoding": {"x": {"field": "i", "type": "quantitative", "axis": null}, "y": {"field": "p", "type": "quantitative", "axis": null}, "text": {"field": "t"}}},
{"data": {"values": [{"i":0.4,"p":1.34697,"t":"24 mins until USD: Fed Chairman Bernanke Speaks"}]},
 "mark": {"type": "text", "font": "Liberation Sans", "fontWeight": "bold", "fontSize": 6.4, "align": "left", "baseline": "middle", "color": "#ff1c44"},
 "encoding": {"x": {"field": "i", "type": "quantitative", "axis": null}, "y": {"field": "p", "type": "quantitative", "axis": null}, "text": {"field": "t"}}},
{"data": {"values": [{"i":0.4,"p":1.34663,"t":"2 hrs 9 mins until USD: Treasury Sec Geithner Speaks"},{"i":0.4,"p":1.34627,"t":"1 days 2 hrs 54 mins until USD: Treasury Sec Geithner Speaks"}]},
 "mark": {"type": "text", "font": "Liberation Sans", "fontWeight": "bold", "fontSize": 6.4, "align": "left", "baseline": "middle", "color": "#2222ee"},
 "encoding": {"x": {"field": "i", "type": "quantitative", "axis": null}, "y": {"field": "p", "type": "quantitative", "axis": null}, "text": {"field": "t"}}},
{"data": {"values": [{"i":0.4,"p":1.34591,"t":"(4)  Additional events are not scheduled"}]},
 "mark": {"type": "text", "font": "Liberation Sans", "fontWeight": "bold", "fontSize": 6.4, "align": "left", "baseline": "middle", "color": "#b4b4b4"},
 "encoding": {"x": {"field": "i", "type": "quantitative", "axis": null}, "y": {"field": "p", "type": "quantitative", "axis": null}, "text": {"field": "t"}}},
{"data": {"values": [{"i":182.4,"p":1.3635,"t":"DR1  1.3637"},{"i":182.4,"p":1.35842,"t":"DPV  1.3587"},{"i":182.4,"p":1.35528,"t":"DS1  1.3555"},{"i":182.4,"p":1.35115,"t":"RgL"},{"i":182.4,"p":1.35027,"t":"DS2  1.3505"},{"i":182.4,"p":1.34708,"t":"DS3  1.3473"}]},
 "mark": {"type": "text", "font": "Liberation Sans", "fontSize": 6.8, "align": "left", "baseline": "middle", "color": "#707070"},
 "encoding": {"x": {"field": "i", "type": "quantitative", "axis": null}, "y": {"field": "p", "type": "quantitative", "axis": null}, "text": {"field": "t"}}},
{"data": {"values": [{"i":85.2,"p":1.36534,"t":"Thursday"},{"i":181.8,"p":1.36534,"t":"Friday"}]},
 "mark": {"type": "text", "font": "Liberation Sans", "fontWeight": "bold", "fontSize": 6.5, "align": "center", "baseline": "middle", "color": "#a8a8a8"},
 "encoding": {"x": {"field": "i", "type": "quantitative", "axis": null}, "y": {"field": "p", "type": "quantitative", "axis": null}, "text": {"field": "t"}}},
{"data": {"values": [{"i":113.5,"p":1.36534,"t":">"},{"i":122.5,"p":1.36534,"t":"L"},{"i":142.2,"p":1.36534,"t":"N"},{"i":152.3,"p":1.36534,"t":"<"},{"i":209.8,"p":1.36534,"t":">"},{"i":218.9,"p":1.36534,"t":"L"},{"i":238.5,"p":1.36534,"t":"N"}]},
 "mark": {"type": "text", "font": "Liberation Sans", "fontWeight": "bold", "fontSize": 6.5, "align": "center", "baseline": "middle", "color": "#a040ff"},
 "encoding": {"x": {"field": "i", "type": "quantitative", "axis": null}, "y": {"field": "p", "type": "quantitative", "axis": null}, "text": {"field": "t"}}},
{"data": {"values": [{"i1":245.9,"i2":256,"p1":1.36264,"p2":1.36309}]},
 "mark": {"type": "rect", "fill": "#2a1414"},
 "encoding": {"x": {"field": "i1", "type": "quantitative", "axis": null}, "x2": {"field": "i2"}, "y": {"field": "p1", "type": "quantitative", "axis": null}, "y2": {"field": "p2"}}},
{"data": {"values": [{"i":246.8,"p":1.36287,"t":"1.36287"}]},
 "mark": {"type": "text", "font": "Liberation Sans", "fontSize": 5.1, "align": "left", "baseline": "middle", "color": "#ffffff"},
 "encoding": {"x": {"field": "i", "type": "quantitative", "axis": null}, "y": {"field": "p", "type": "quantitative", "axis": null}, "text": {"field": "t"}}}
]
},
{
"width": 600, "height": 46,
"resolve": {"axis": {"x": "independent", "y": "independent"}},
"layer": [
{"data": {"name": "bars"},
 "mark": {"type": "bar", "size": 2},
 "encoding": {
  "x": {"field": "i", "type": "quantitative", "scale": {"domain": [-0.41, 245.49], "nice": false, "zero": false}, "axis": {"title": null, "values": [0,16,32,48,64,80,96,112,128,144,160,176,192,208,224], "labelAlign": "left", "labelExpr": "['16 Feb 2011','16 Feb 06:45','16 Feb 10:45','16 Feb 14:45','16 Feb 18:45','16 Feb 22:45','17 Feb 02:45','17 Feb 06:45','17 Feb 10:45','17 Feb 14:45','17 Feb 18:45','17 Feb 22:45','18 Feb 02:45','18 Feb 06:45','18 Feb 10:45'][round(datum.value/16)]"}},
  "y": {"field": "v", "type": "quantitative", "scale": {"domain": [0, 2200], "nice": false}, "axis": {"orient": "right", "title": null, "labelFontSize": 4.8, "tickSize": 2, "labelPadding": 1, "values": [2080, 290], "labelExpr": "datum.value > 1000 ? '-9000000' : '9000000'"}},
  "color": {"field": "k", "type": "nominal", "scale": {"domain": ["c","p","g"], "range": ["#3ee0d2","#9474de","#d6d6d6"]}, "legend": null}}},
{"data": {"name": "va"},
 "mark": {"type": "line", "color": "#7a7a7a", "strokeWidth": 1.5, "interpolate": "monotone"},
 "encoding": {"x": {"field": "i", "type": "quantitative", "axis": null}, "y": {"field": "a", "type": "quantitative", "axis": null}}},
{"data": {"values": [{"i":0.8,"v":2010,"t":"SonicR MACD  (12,26,9)  -off      SonicR Volume  (Period 30, Average 1005, Bar 548)"},{"i":0.8,"v":240,"t":"MetaTrader - Alpari UK, © 2001-2010 MetaQuotes Software Corp."}]},
 "mark": {"type": "text", "font": "Liberation Sans", "fontSize": 5.6, "align": "left", "baseline": "middle", "color": "#000000"},
 "encoding": {"x": {"field": "i", "type": "quantitative", "axis": null}, "y": {"field": "v", "type": "quantitative", "axis": null}, "text": {"field": "t"}}}
]
}
]
}
